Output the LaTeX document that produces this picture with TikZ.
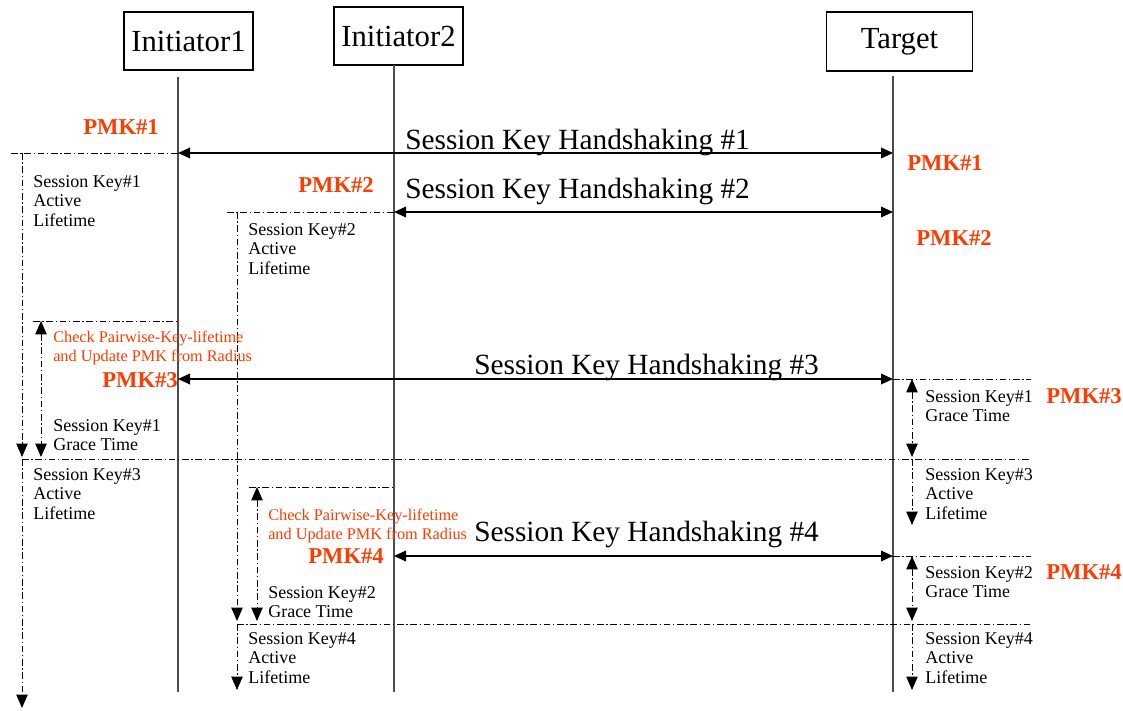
\documentclass[tikz,border=0pt]{standalone}
\usepackage{fontspec}
\setmainfont{Liberation Serif}
\usetikzlibrary{arrows.meta}
\definecolor{pmkred}{RGB}{255,60,0}

\begin{document}
\begin{tikzpicture}[x=0.75pt,y=-0.75pt,
  actor/.style={draw,line width=0.8pt,inner sep=0pt,font=\fontsize{23}{26}\selectfont},
  life/.style={draw=black!70,line width=1.3pt},
  msg/.style={{Triangle[length=9pt,width=8pt]}-{Triangle[length=9pt,width=8pt]},line width=1pt},
  dd/.style={line width=0.7pt,dash pattern=on 5pt off 2pt on 1pt off 2pt},
  ddarr/.style={dd,-{Triangle[length=10pt,width=8.5pt]}},
  ddboth/.style={dd,{Triangle[length=10pt,width=8.5pt]}-{Triangle[length=10pt,width=8.5pt]}},
  hs/.style={anchor=base west,inner sep=0pt,font=\fontsize{22}{24}\selectfont},
  note/.style={anchor=north west,align=left,inner sep=0pt,font=\fontsize{13.5}{14.6}\selectfont},
  chk/.style={note,text=pmkred,font=\fontsize{12.2}{14.3}\selectfont},
  pmk/.style={anchor=west,inner sep=0pt,text=pmkred,font=\fontsize{17}{20}\selectfont\bfseries}]
\useasboundingbox (0,0) rectangle (1123,710);

\node[actor,minimum width=96.75pt,minimum height=43.5pt] (init1) at (188.5,41) {Initiator1};
\node[actor,minimum width=96.75pt,minimum height=43.5pt] (init2) at (398.5,36) {Initiator2};
\node[actor,minimum width=110pt,minimum height=44.25pt] (tgt) at (899.5,41.5) {Target};

\coordinate (i1top) at (178,77);
\coordinate (i1bot) at (178,692);
\coordinate (i2top) at (394,65);
\coordinate (i2bot) at (394,692);
\coordinate (ttop) at (893,76);
\coordinate (tbot) at (893,692);
\draw[life] (i1top) -- (i1bot);
\draw[life] (i2top) -- (i2bot);
\draw[life] (ttop) -- (tbot);

\coordinate (hs1) at (0,153);
\coordinate (hs2) at (0,212);
\coordinate (hs3) at (0,379);
\coordinate (hs4) at (0,556);
\coordinate (ck1) at (0,321);
\coordinate (ck2) at (0,487);

\draw[msg] (i1top |- hs1) -- (ttop |- hs1);
\draw[msg] (i2top |- hs2) -- (ttop |- hs2);
\draw[msg] (i1top |- hs3) -- (ttop |- hs3);
\draw[msg] (i2top |- hs4) -- (ttop |- hs4);

\draw[dd] (11,153) -- (i1top |- hs1);
\draw[ddarr] (22,153) -- (22,457);
\draw[ddarr] (22,459) -- (22,708);
\draw[dd] (22,459) -- (1031,459);
\draw[dd] (227,212) -- (i2top |- hs2);
\draw[ddarr] (237,212) -- (237,621);
\draw[ddarr] (237,624) -- (237,690);
\draw[dd] (237,624) -- (1031,624);
\draw[dd] (33,321) -- (i1top |- ck1);
\draw[ddboth] (41,321) -- (41,457);
\draw[dd] (249,487) -- (i2top |- ck2);
\draw[ddboth] (257,487) -- (257,621);
\draw[dd] (ttop |- hs3) -- (1031,379);
\draw[ddboth] (912,379) -- (912,457);
\draw[ddarr] (912,459) -- (912,525);
\draw[dd] (ttop |- hs4) -- (1031,556);
\draw[ddboth] (912,556) -- (912,621);
\draw[ddarr] (912,624) -- (912,690);

\node[hs] (lhs1) at (405,149) {Session Key Handshaking \#1};
\node[hs] (lhs2) at (405,198) {Session Key Handshaking \#2};
\node[hs] (lhs3) at (474,374) {Session Key Handshaking \#3};
\node[hs] (lhs4) at (474,541) {Session Key Handshaking \#4};

\node[pmk] (p1a) at (83,127) {PMK\#1};
\node[pmk] (p1b) at (907,163) {PMK\#1};
\node[pmk] (p2a) at (298,185) {PMK\#2};
\node[pmk] (p2b) at (916,238) {PMK\#2};
\node[pmk] (p3a) at (102,380) {PMK\#3};
\node[pmk] (p3b) at (1046,396) {PMK\#3};
\node[pmk] (p4a) at (308,556) {PMK\#4};
\node[pmk] (p4b) at (1046,572) {PMK\#4};

\node[note] (sk1act) at (33,175) {Session Key\#1\\Active\\Lifetime};
\node[note] (sk2act) at (248,223) {Session Key\#2\\Active\\Lifetime};
\node[chk] (chk1) at (53,331) {Check Pairwise-Key-lifetime\\and Update PMK from Radius};
\node[note] (sk1gr) at (53,419) {Session Key\#1\\Grace Time};
\node[note] (sk3act) at (33,468) {Session Key\#3\\Active\\Lifetime};
\node[chk] (chk2) at (268,509) {Check Pairwise-Key-lifetime\\and Update PMK from Radius};
\node[note] (sk2gr) at (268,586) {Session Key\#2\\Grace Time};
\node[note] (sk4act) at (248,632) {Session Key\#4\\Active\\Lifetime};
\node[note] (sk1grt) at (925,390) {Session Key\#1\\Grace Time};
\node[note] (sk3actt) at (925,468) {Session Key\#3\\Active\\Lifetime};
\node[note] (sk2grt) at (925,566) {Session Key\#2\\Grace Time};
\node[note] (sk4actt) at (925,632) {Session Key\#4\\Active\\Lifetime};
\end{tikzpicture}
\end{document}
